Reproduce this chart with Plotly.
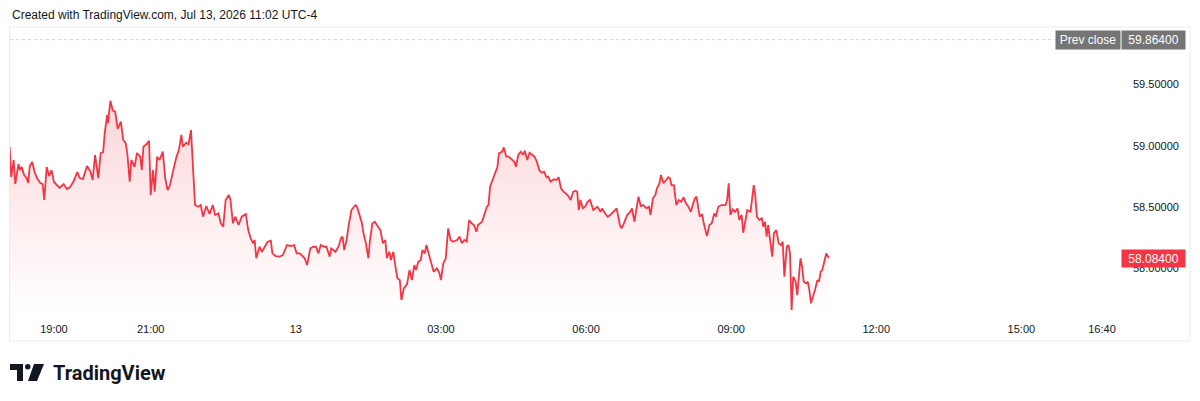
import datetime as dt
import plotly.graph_objects as go

# ---- data -------------------------------------------------------------
SESSION_OPEN = dt.datetime(2026, 7, 12, 18, 0)
# minutes since session open (18:00, Jul 12)
minutes = [
    5, 7, 10, 12, 16, 18, 20, 23, 26, 28,
    30, 33, 36, 39, 43, 46, 48, 51, 54, 57,
    60, 63, 67, 72, 76, 80, 84, 89, 92, 96,
    101, 105, 108, 111, 115, 118, 121, 123, 126, 127,
    130, 133, 136, 139, 143, 146, 149, 151, 154, 156,
    160, 163, 167, 169, 171, 175, 178, 180, 183, 185,
    188, 191, 195, 198, 201, 204, 206, 209, 212, 215,
    218, 220, 224, 227, 230, 232, 235, 239, 242, 245,
    249, 253, 257, 260, 264, 267, 270, 273, 277, 279,
    282, 285, 289, 293, 296, 298, 301, 304, 307, 309,
    311, 315, 318, 322, 325, 329, 331, 335, 340, 344,
    347, 349, 354, 358, 361, 365, 369, 371, 374, 378,
    382, 385, 388, 391, 395, 398, 402, 404, 409, 413,
    416, 418, 420, 423, 426, 429, 434, 436, 439, 442,
    444, 447, 450, 452, 455, 458, 462, 465, 468, 471,
    473, 476, 478, 481, 483, 486, 489, 491, 494, 498,
    501, 504, 507, 509, 512, 515, 517, 520, 522, 526,
    529, 531, 535, 538, 540, 543, 546, 549, 552, 555,
    560, 563, 566, 569, 572, 575, 578, 581, 584, 586,
    591, 594, 597, 599, 601, 604, 607, 610, 612, 616,
    618, 621, 624, 628, 631, 633, 636, 639, 642, 644,
    647, 650, 653, 656, 659, 662, 665, 668, 671, 673,
    676, 680, 683, 686, 689, 692, 695, 698, 701, 704,
    707, 709, 711, 713, 716, 719, 722, 725, 729, 731,
    734, 738, 740, 744, 747, 750, 754, 758, 762, 764,
    767, 771, 774, 777, 780, 783, 785, 788, 791, 795,
    798, 800, 803, 806, 808, 811, 813, 816, 819, 822,
    824, 826, 829, 832, 835, 838, 841, 844, 847, 850,
    853, 855, 857, 861, 864, 866, 870, 873, 876, 879,
    881, 884, 888, 893, 895, 897, 899, 902, 905, 908,
    910, 913, 915, 917, 920, 924, 926, 928, 930, 932,
    935, 938, 940, 942, 944, 946, 948, 951, 953, 956,
    959, 962, 964, 966, 969, 971, 973, 975, 977, 980,
    982, 984, 986, 988, 990, 993, 995, 997, 999, 1002,
    1004, 1007, 1009, 1011, 1013, 1016, 1018, 1021,
]
prices = [
    58.991, 58.744, 58.883, 58.687, 58.850, 58.801, 58.826, 58.761, 58.736, 58.695,
    58.834, 58.867, 58.785, 58.736, 58.695, 58.687, 58.557, 58.826, 58.752, 58.801,
    58.704, 58.679, 58.655, 58.687, 58.646, 58.663, 58.704, 58.785, 58.736, 58.728,
    58.834, 58.793, 58.720, 58.924, 58.736, 58.940, 58.948, 59.103, 59.250, 59.184,
    59.366, 59.285, 59.277, 59.136, 59.195, 59.046, 59.021, 58.940, 58.706, 58.883,
    58.826, 58.940, 58.910, 58.801, 58.991, 59.013, 59.040, 58.598, 58.801, 58.624,
    58.910, 58.883, 58.951, 58.736, 58.638, 58.679, 58.752, 58.828, 58.910, 58.964,
    59.087, 58.991, 59.024, 59.011, 59.127, 58.910, 58.516, 58.502, 58.516, 58.421,
    58.508, 58.443, 58.516, 58.435, 58.448, 58.367, 58.339, 58.557, 58.598, 58.557,
    58.367, 58.421, 58.353, 58.421, 58.435, 58.443, 58.312, 58.245, 58.204, 58.231,
    58.082, 58.176, 58.135, 58.176, 58.217, 58.225, 58.122, 58.100, 58.095, 58.108,
    58.149, 58.190, 58.182, 58.190, 58.122, 58.122, 58.095, 58.082, 58.027, 58.163,
    58.176, 58.176, 58.122, 58.190, 58.176, 58.176, 58.095, 58.163, 58.135, 58.176,
    58.245, 58.258, 58.149, 58.231, 58.367, 58.475, 58.516, 58.502, 58.435, 58.367,
    58.285, 58.204, 58.082, 58.231, 58.367, 58.380, 58.339, 58.312, 58.204, 58.231,
    58.082, 58.135, 58.068, 58.135, 58.041, 57.918, 57.905, 57.742, 57.837, 57.872,
    57.986, 57.905, 58.027, 57.986, 58.054, 58.068, 58.149, 58.122, 58.190, 58.082,
    58.013, 57.972, 58.000, 57.964, 57.905, 58.041, 58.082, 58.326, 58.231, 58.217,
    58.231, 58.258, 58.204, 58.231, 58.217, 58.394, 58.367, 58.353, 58.298, 58.353,
    58.380, 58.448, 58.502, 58.516, 58.665, 58.720, 58.774, 58.823, 58.937, 58.951,
    58.986, 58.910, 58.910, 58.883, 58.869, 58.828, 58.924, 58.951, 58.924, 58.959,
    58.883, 58.942, 58.924, 58.910, 58.869, 58.801, 58.779, 58.787, 58.742, 58.747,
    58.706, 58.726, 58.720, 58.742, 58.652, 58.624, 58.611, 58.589, 58.557, 58.624,
    58.633, 58.624, 58.475, 58.557, 58.489, 58.502, 58.543, 58.557, 58.475, 58.489,
    58.502, 58.461, 58.489, 58.443, 58.421, 58.435, 58.461, 58.489, 58.353, 58.326,
    58.367, 58.435, 58.453, 58.489, 58.380, 58.489, 58.584, 58.508, 58.516, 58.489,
    58.502, 58.435, 58.571, 58.598, 58.652, 58.693, 58.761, 58.693, 58.720, 58.742,
    58.734, 58.679, 58.679, 58.516, 58.557, 58.543, 58.579, 58.530, 58.502, 58.461,
    58.530, 58.571, 58.584, 58.421, 58.443, 58.367, 58.263, 58.353, 58.367, 58.448,
    58.421, 58.502, 58.516, 58.516, 58.557, 58.693, 58.435, 58.481, 58.461, 58.489,
    58.394, 58.435, 58.290, 58.367, 58.475, 58.461, 58.557, 58.679, 58.584, 58.421,
    58.394, 58.408, 58.339, 58.380, 58.258, 58.353, 58.245, 58.095, 58.285, 58.312,
    58.204, 58.190, 58.217, 57.932, 58.176, 58.190, 58.122, 57.660, 57.932, 57.891,
    57.782, 57.972, 58.082, 58.013, 57.891, 57.878, 57.891, 57.823, 57.715, 57.782,
    57.823, 57.905, 57.891, 57.972, 57.986, 58.068, 58.122, 58.084,
]
PREV_CLOSE = 59.864
LAST_PRICE = 58.084

y_tick_vals = [58.0, 58.5, 59.0, 59.5]
x_tick_times = ["2026-07-12 19:00", "2026-07-12 21:00", "2026-07-13 00:00",
                "2026-07-13 03:00", "2026-07-13 06:00", "2026-07-13 09:00",
                "2026-07-13 12:00", "2026-07-13 15:00", "2026-07-13 16:40"]
x_tick_text = ["19:00", "21:00", "13", "03:00", "06:00", "09:00",
               "12:00", "15:00", "16:40"]

X_RANGE = ["2026-07-12 18:05:30", "2026-07-13 16:52:24"]
Y_RANGE = [57.636, 59.967]

times = [SESSION_OPEN + dt.timedelta(minutes=m) for m in minutes]

# ---- layout geometry (pixels) ------------------------------------------
W, H = 1200, 401
ML, MR, MT, MB = 10, 88, 27, 88
PW, PH = W - ML - MR, H - MT - MB


def px(x):
    return (x - ML) / PW


def py(y):
    return (H - MB - y) / PH


RED = "#f23645"
TXT = "#131722"
FONT = "Liberation Sans, Arial, sans-serif"

fig = go.Figure()
fig.add_trace(go.Scatter(
    x=times, y=prices, mode="lines",
    line=dict(color=RED, width=1.8),
    fill="tozeroy",
    fillgradient=dict(type="vertical",
                      colorscale=[[0, "rgba(242,54,69,0.0)"], [1, "rgba(242,54,69,0.2)"]],
                      start=Y_RANGE[0], stop=max(prices)),
    hoverinfo="skip", showlegend=False,
))

shapes = [
    # chart frame
    dict(type="rect", xref="paper", yref="paper",
         x0=px(9.5), x1=px(1190), y0=py(341), y1=py(27),
         line=dict(color="#ebecef", width=1), fillcolor="rgba(0,0,0,0)", layer="below"),
    # previous close dotted line
    dict(type="line", xref="paper", yref="y", x0=0, x1=px(1055),
         y0=PREV_CLOSE, y1=PREV_CLOSE,
         line=dict(color="#cfd1d6", width=1, dash="dot")),
    # TradingView logo
    dict(type="path", xref="paper", yref="paper",
         path=f"M {px(10)},{py(364)} L {px(23)},{py(364)} L {px(23)},{py(381)} "
              f"L {px(17)},{py(381)} L {px(17)},{py(370)} L {px(10)},{py(370)} Z",
         fillcolor=TXT, line=dict(width=0)),
    dict(type="circle", xref="paper", yref="paper",
         x0=px(25), x1=px(30.5), y0=py(369.5), y1=py(364),
         fillcolor=TXT, line=dict(width=0)),
    dict(type="path", xref="paper", yref="paper",
         path=f"M {px(34)},{py(364)} L {px(44)},{py(364)} L {px(37)},{py(381)} "
              f"L {px(28)},{py(381)} Z",
         fillcolor=TXT, line=dict(width=0)),
]

annotations = [
    dict(text="Created with TradingView.com, Jul 13, 2026 11:02 UTC-4",
         xref="paper", yref="paper", x=px(10), y=py(15), xanchor="left", yanchor="middle",
         showarrow=False, font=dict(family=FONT, size=12, color=TXT)),
    dict(text="Prev close", xref="paper", yref="paper", x=px(1088), y=py(39.5),
         xanchor="center", yanchor="middle", showarrow=False,
         bgcolor="#757575", width=62, height=16, borderpad=1,
         font=dict(family=FONT, size=12, color="white")),
    dict(text=f"{PREV_CLOSE:.5f}", xref="paper", yref="paper", x=px(1153.5), y=py(39.5),
         xanchor="center", yanchor="middle", showarrow=False,
         bgcolor="#757575", width=61, height=16, borderpad=1,
         font=dict(family=FONT, size=12, color="white")),
    dict(text=f"{LAST_PRICE:.5f}", xref="paper", yref="y", x=px(1153.5), y=LAST_PRICE,
         xanchor="center", yanchor="middle", showarrow=False,
         bgcolor=RED, width=61, height=15, borderpad=1,
         font=dict(family=FONT, size=12, color="white")),
    dict(text="<b>TradingView</b>", xref="paper", yref="paper", x=px(51), y=py(372.5),
         xanchor="left", yanchor="middle", showarrow=False,
         font=dict(family="Roboto, sans-serif", size=20, color=TXT)),
]

fig.update_layout(
    width=W, height=H,
    margin=dict(l=ML, r=MR, t=MT, b=MB),
    paper_bgcolor="white", plot_bgcolor="white",
    xaxis=dict(type="date", range=X_RANGE, tickvals=x_tick_times, ticktext=x_tick_text,
               showgrid=False, zeroline=False, showline=False, ticks="",
               ticklabelstandoff=8,
               tickfont=dict(family=FONT, size=11, color=TXT), fixedrange=True),
    yaxis=dict(side="right", range=Y_RANGE, tickvals=y_tick_vals,
               ticktext=[f"{v:.5f}" for v in y_tick_vals],
               showgrid=False, zeroline=False, showline=False, ticks="",
               ticklabelstandoff=20,
               tickfont=dict(family=FONT, size=11, color=TXT), fixedrange=True),
    shapes=shapes, annotations=annotations,
    showlegend=False,
)

fig.write_html("out.html")
